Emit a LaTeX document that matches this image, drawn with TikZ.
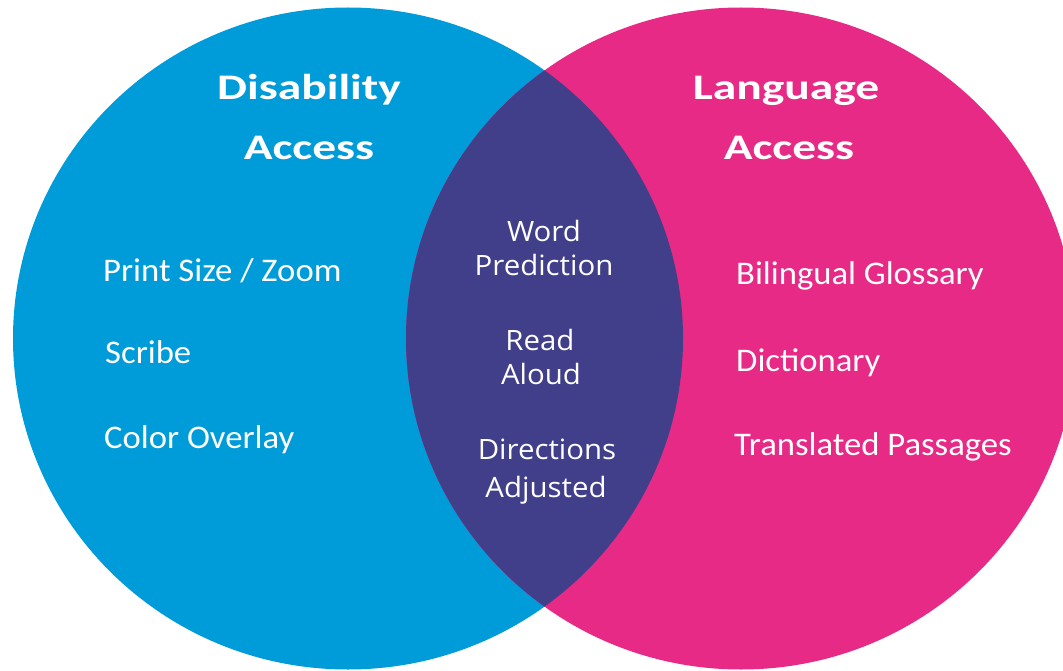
\documentclass[tikz,border=0pt]{standalone}
\usepackage{fontspec}
\setmainfont{Carlito}[FakeStretch=1.05]
\newfontfamily\headfont{Carlito}[FakeStretch=1.32]
\newfontfamily\midfont{Open Sans}[FakeStretch=1.05]
\definecolor{disblue}{RGB}{0,155,217}
\definecolor{langpink}{RGB}{231,42,134}
\definecolor{bothpurple}{RGB}{65,63,138}

\begin{document}
\begin{tikzpicture}[x=1pt,y=-1pt,
head node/.style={text=white,anchor=base,inner sep=0,font=\headfont\bfseries\fontsize{36}{43}\selectfont},
item node/.style={text=white,anchor=base west,inner sep=0,font=\fontsize{33}{40}\selectfont},
mid node/.style={text=white,anchor=base,inner sep=0,font=\midfont\fontsize{28}{34}\selectfont}]
\useasboundingbox (0,0) rectangle (1063,671);
\def\rx{335};
\def\ry{331};

% the two sets and their overlap
\fill[disblue] (348,338.5) ellipse [x radius=\rx, y radius=\ry];
\fill[langpink] (741,338.5) ellipse [x radius=\rx, y radius=\ry];
\begin{scope}
\clip (348,338.5) ellipse [x radius=\rx, y radius=\ry];
\fill[bothpurple] (741,338.5) ellipse [x radius=\rx, y radius=\ry];
\end{scope}

\node[head node] (h11) at (309,99.5) {Disability};
\node[head node] (h12) at (309,160) {Access};
\node[head node] (h21) at (786,99.5) {Language};
\node[head node] (h22) at (789,160) {Access};

\node[item node] (11) at (103,281.5) {Print Size / Zoom};
\node[item node] (12) at (105,363) {Scribe};
\node[item node] (13) at (104,448) {Color Overlay};

\node[item node] (21) at (736,284) {Bilingual Glossary};
\node[item node] (22) at (736,371) {Dictionary};
\node[item node] (23) at (734,455) {Translated Passages};

\node[mid node] (31) at (544,241.5) {Word};
\node[mid node] (32) at (544,275) {Prediction};
\node[mid node] (33) at (540,350) {Read};
\node[mid node] (34) at (541,384) {Aloud};
\node[mid node] (35) at (547,459) {Directions};
\node[mid node] (36) at (546,497) {Adjusted};

\end{tikzpicture}
\end{document}
